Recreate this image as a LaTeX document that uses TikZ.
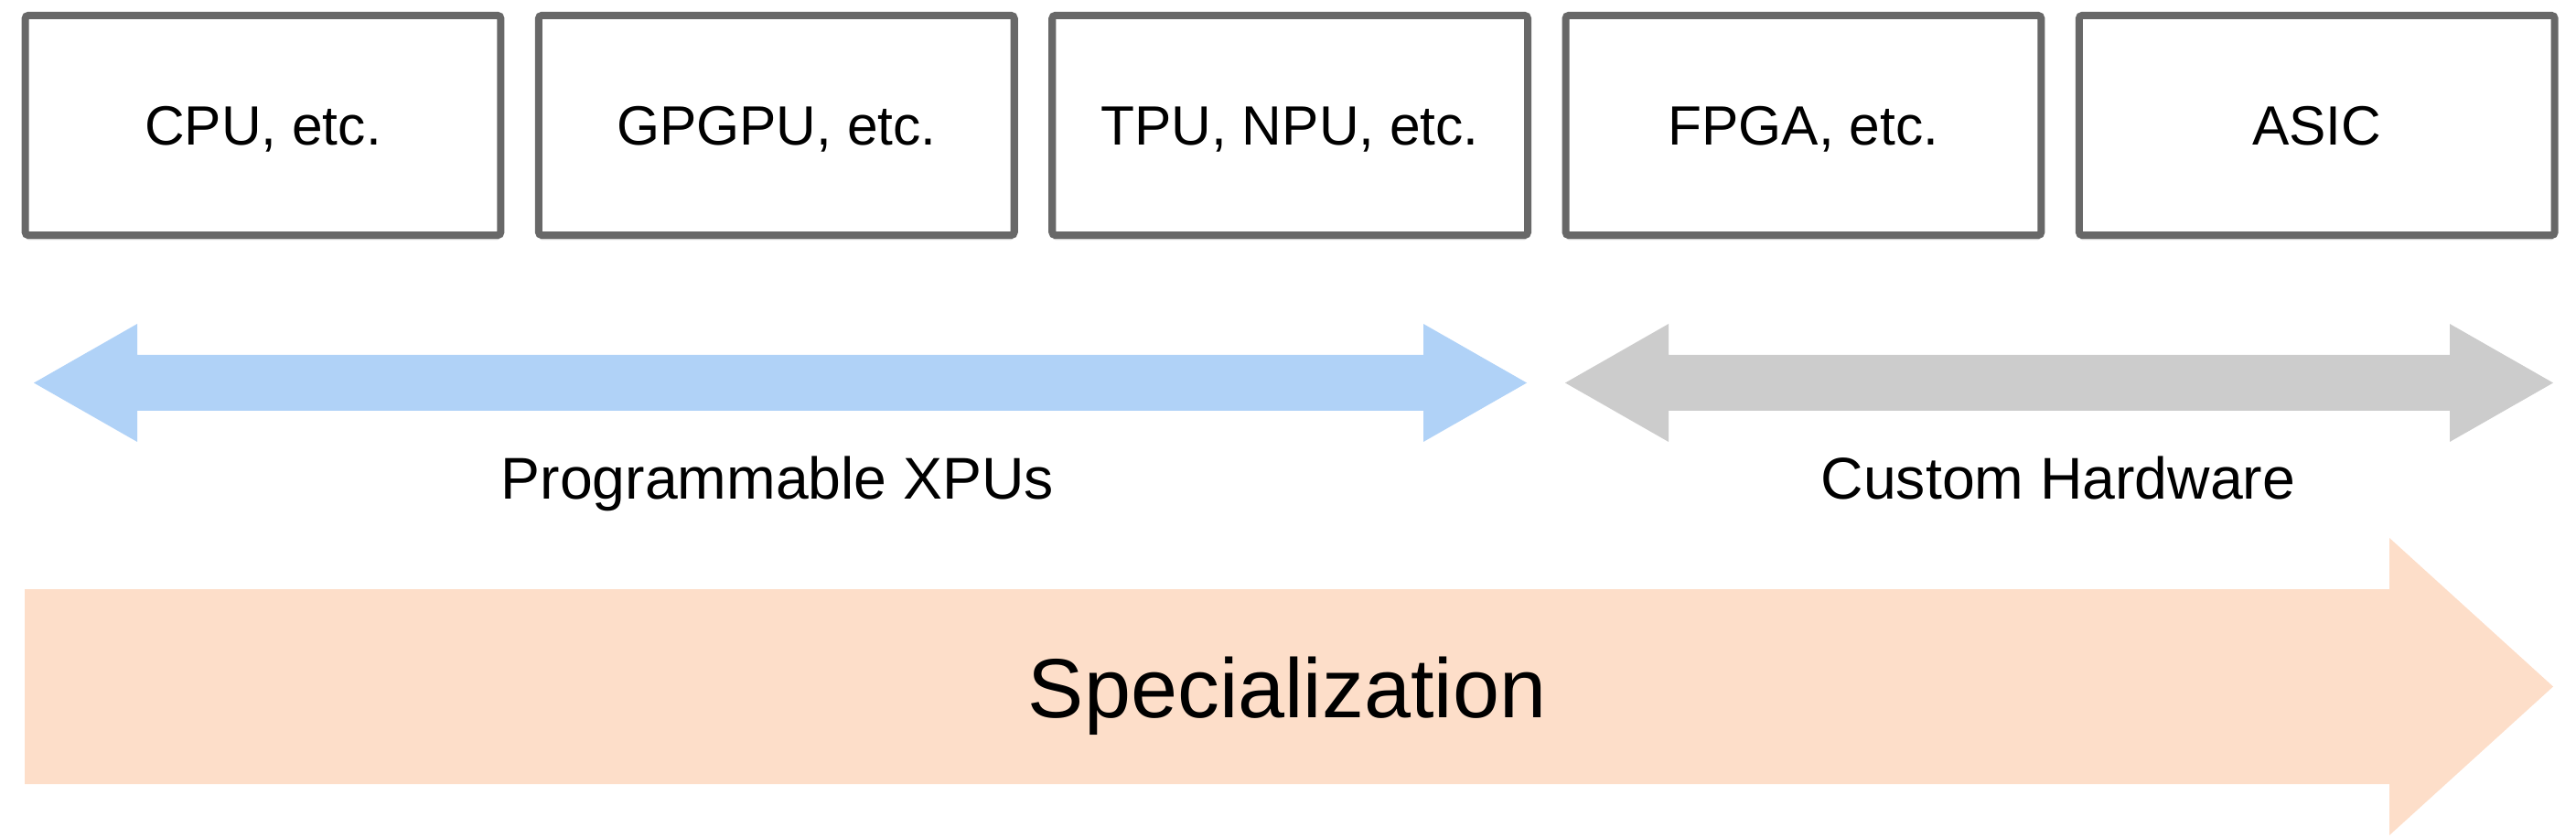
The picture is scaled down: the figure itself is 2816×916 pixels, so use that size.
\documentclass[tikz,border=0pt]{standalone}
\usepackage{fontspec}
\setmainfont{Liberation Sans}
\usepackage{xcolor}
\usetikzlibrary{positioning,shadows}

\definecolor{chipedge}{HTML}{686868}
\definecolor{xpublue}{HTML}{B0D2F7}
\definecolor{hwgray}{HTML}{CCCCCC}
\definecolor{specpeach}{HTML}{FDDEC9}

\begin{document}
\begin{tikzpicture}[
    x=0.01cm, y=-0.01cm,
    node distance=0.334cm,
    chip/.style={rectangle, draw=chipedge, fill=white, line width=2.3pt, rounded corners=1pt,
        minimum width=5.195cm, minimum height=2.4cm, inner sep=0pt,
        text height=12.3pt, text depth=0pt,
        drop shadow={shadow xshift=0pt, shadow yshift=-1.5pt, opacity=0.12, fill=black},
        font=\fontsize{17.2}{21}\selectfont},
    rangelabel/.style={anchor=base, inner sep=0pt, font=\fontsize{18.3}{22}\selectfont},
    bigtext/.style={anchor=base, inner sep=0pt, font=\fontsize{26.1}{32}\selectfont}
]
    \useasboundingbox (0,0) rectangle (2816,916);

    % hardware boxes
    \node [chip] (cpu) at (287.5,137) {CPU, etc.};
    \node [chip, right=of cpu] (gpgpu) {GPGPU, etc.};
    \node [chip, right=of gpgpu] (tpu) {TPU, NPU, etc.};
    \node [chip, right=of tpu] (fpga) {FPGA, etc.};
    \node [chip, right=of fpga] (asic) {ASIC};

    % two-headed range arrows
    \fill [xpublue] (37,418.5) -- (150,354) -- (150,388) -- (1556,388) -- (1556,354) -- (1669,418.5)
        -- (1556,483) -- (1556,449) -- (150,449) -- (150,483) -- cycle;
    \fill [hwgray] (1711,418.5) -- (1824,354) -- (1824,388) -- (2678,388) -- (2678,354) -- (2791,418.5)
        -- (2678,483) -- (2678,449) -- (1824,449) -- (1824,483) -- cycle;

    \node [rangelabel] (xpu) at (850,545.7) {Programmable XPUs};
    \node [rangelabel] (hw) at (2250,545.7) {Custom Hardware};

    % specialization arrow
    \fill [specpeach] (27,644) -- (2612,644) -- (2612,588) -- (2791,750.5) -- (2612,913)
        -- (2612,857) -- (27,857) -- cycle;
    \node [bigtext] (spec) at (1407,784) {Specialization};
\end{tikzpicture}
\end{document}
